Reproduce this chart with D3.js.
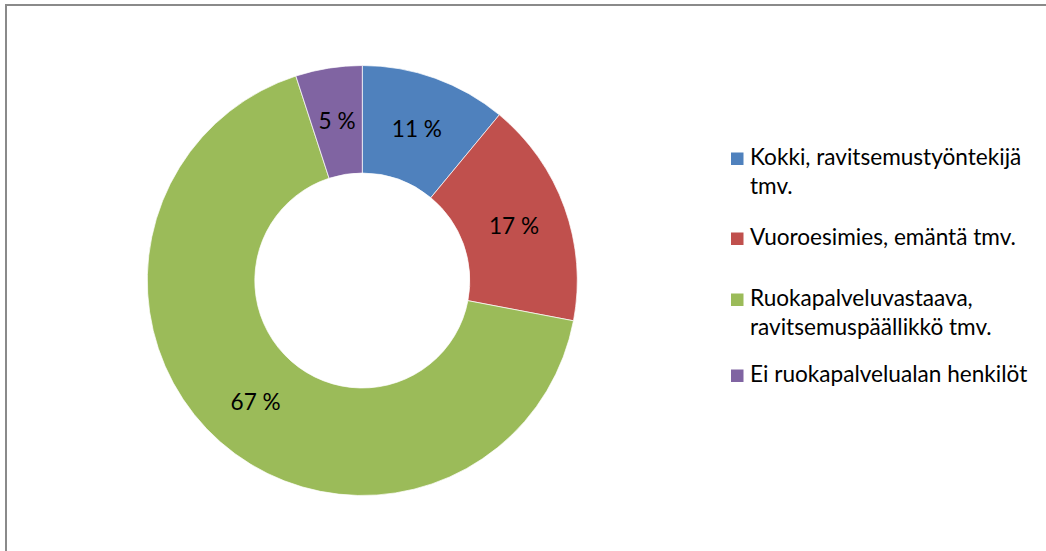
<!DOCTYPE html>
<html>
<head>
<meta charset="utf-8">
<script src="https://cdn.jsdelivr.net/npm/d3@7"></script>
<style>
  html, body { margin: 0; padding: 0; background: #fff; }
  svg { display: block; }
</style>
</head>
<body>
<script>
// Chart values
var categories = [
    "Kokki, ravitsemustyöntekijä tmv.",
    "Vuoroesimies, emäntä tmv.",
    "Ruokapalveluvastaava, ravitsemuspäällikkö tmv.",
    "Ei ruokapalvelualan henkilöt"
];
var legendLines = [
    ["Kokki, ravitsemustyöntekijä", "tmv."],
    ["Vuoroesimies, emäntä tmv."],
    ["Ruokapalveluvastaava,", "ravitsemuspäällikkö tmv."],
    ["Ei ruokapalvelualan henkilöt"]
];
var shares = [11, 17, 67, 5];
var colors = ["#4F81BD", "#C0504D", "#9BBB59", "#8064A2"];

var width = 1046;
var height = 551;
var cx = 362.3, cy = 280.5;
var outerR = 215, innerR = 107.5;
var font = "Lato, 'Open Sans', sans-serif";
var fontSize = 22.6;

const svg = d3.select("body")
    .append("svg")
    .attr("width", width)
    .attr("height", height);

// Chart area frame (only top and left edges visible in the picture)
svg.append("rect")
    .attr("x", 6)
    .attr("y", 5)
    .attr("width", width + 20)
    .attr("height", height + 20)
    .attr("fill", "#fff")
    .attr("stroke", "#8a8a8a")
    .attr("stroke-width", 2);

var pie = d3.pie().sort(null).value(d => d.value);
var arcs = pie(shares.map((v, i) => ({ value: v, name: categories[i], color: colors[i] })));

var arc = d3.arc().innerRadius(innerR).outerRadius(outerR);
var labelArc = d3.arc().innerRadius((innerR + outerR) / 2).outerRadius((innerR + outerR) / 2);

var g = svg.append("g")
    .attr("transform", `translate(${cx},${cy})`);

g.selectAll("path")
    .data(arcs)
    .join("path")
        .attr("d", arc)
        .attr("fill", d => d.data.color)
        .attr("stroke", "#fff")
        .attr("stroke-width", 0.7);

g.selectAll("text")
    .data(arcs)
    .join("text")
        .attr("transform", d => `translate(${labelArc.centroid(d)})`)
        .attr("text-anchor", "middle")
        .attr("dy", "0.36em")
        .style("font-family", font)
        .style("font-size", fontSize + "px")
        .attr("fill", "#000")
        .text(d => d3.format("d")(d.data.value) + " %");

// Legend
var legendBaselines = [165, 245, 306, 382];
var lineGap = 28.5;
var legend = svg.append("g");

var items = legend.selectAll("g")
    .data(legendLines)
    .join("g")
        .attr("transform", (d, i) => `translate(0,${legendBaselines[i]})`);

items.append("rect")
    .attr("x", 731)
    .attr("y", -12.5)
    .attr("width", 12.5)
    .attr("height", 12.5)
    .attr("fill", (d, i) => colors[i]);

items.append("text")
    .attr("x", 750)
    .style("font-family", font)
    .style("font-size", fontSize + "px")
    .attr("fill", "#000")
    .selectAll("tspan")
    .data(d => d)
    .join("tspan")
        .attr("x", 750)
        .attr("y", (d, j) => j * lineGap)
        .text(d => d);
</script>
</body>
</html>
